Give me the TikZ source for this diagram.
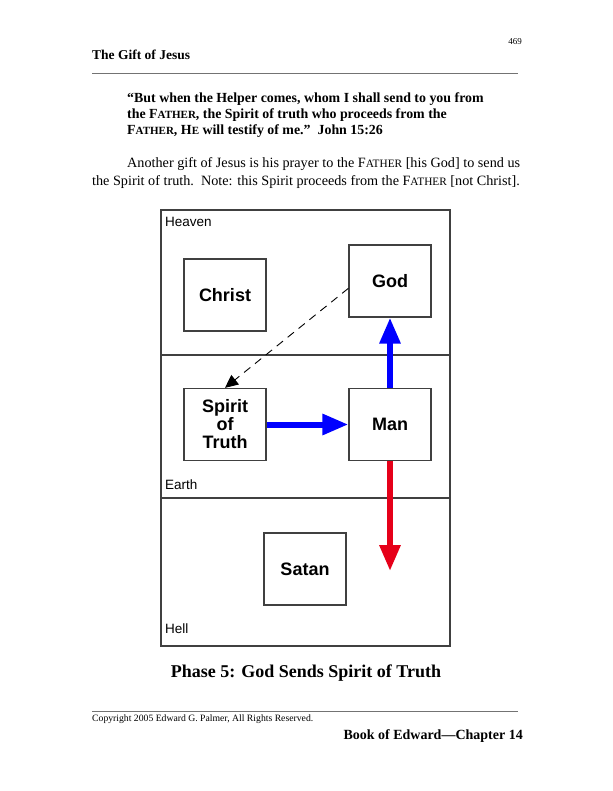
\documentclass[tikz,border=0pt]{standalone}
\usepackage{fontspec}
\setmainfont{Liberation Serif}
\setsansfont{Liberation Sans}
\usetikzlibrary{arrows.meta,calc}
\newcommand{\fscq}[2]{#1{\fontsize{11}{13}\selectfont #2}}
\newcommand{\fscp}[2]{#1{\fontsize{11.3}{13}\selectfont #2}}
\begin{document}
\begin{tikzpicture}[x=1pt,y=-1pt,
  txt/.style={anchor=base west,inner sep=0pt,font=\fontsize{14.2}{16}\selectfont},
  qt/.style={anchor=base west,inner sep=0pt,font=\fontsize{13.9}{16}\selectfont\bfseries},
  zone/.style={anchor=base west,inner sep=0pt,font=\sffamily\fontsize{13.5}{15}\selectfont},
  box/.style={draw=black!75,line width=1.3pt,minimum width=82pt,minimum height=72pt,inner sep=0pt,
    align=center,font=\sffamily\bfseries\fontsize{18}{18}\selectfont},
  frame/.style={draw=black!75,line width=1.3pt},
  rule/.style={draw=black!55,line width=0.6pt},
  fat/.style={line width=6pt},
  bluearrow/.style={fat,draw={rgb,255:red,0;green,0;blue,255},
    -{Triangle[length=26pt,width=20pt,fill={rgb,255:red,0;green,0;blue,255}]}},
  redarrow/.style={fat,draw={rgb,255:red,230;green,0;blue,25},
    -{Triangle[length=26pt,width=20pt,fill={rgb,255:red,230;green,0;blue,25}]}}
]
\useasboundingbox[fill=white] (0,0) rectangle (612,791);
% header
\node[anchor=base east,inner sep=0pt,font=\fontsize{9}{10}\selectfont] (pg) at (522,45) {469};
\node[anchor=base west,inner sep=0pt,font=\fontsize{13.5}{15}\selectfont\bfseries] (title) at (92,60) {The Gift of Jesus};
\coordinate (r1a) at (92,73); \coordinate (r1b) at (518,73);
\draw[rule] (r1a) -- (r1b);
% quote
\node[qt] (q1) at (127,103) {“But when the Helper comes, whom I shall send to you from};
\node[qt] (q2) at (127,119) {the \fscq{F}{ATHER}, the Spirit of truth who proceeds from the};
\node[qt] (q3) at (127,135) {\fscq{F}{ATHER}, \fscq{H}{E} will testify of me.”\ \ John 15:26};
% paragraph
\node[txt] (p1) at (127,168) {Another gift of Jesus is his prayer to the \fscp{F}{ATHER} [his God] to send us};
\node[txt] (p2) at (92,186) {the Spirit of truth.\ \ Note: this Spirit proceeds from the \fscp{F}{ATHER} [not Christ].};
% diagram frame
\coordinate (fa) at (161,210); \coordinate (fb) at (450,646);
\draw[frame] (fa) rectangle (fb);
\coordinate (d1a) at (161,355); \coordinate (d1b) at (450,355);
\coordinate (d2a) at (161,498); \coordinate (d2b) at (450,498);
\draw[frame] (d1a) -- (d1b);
\draw[frame] (d2a) -- (d2b);
\node[zone] (heaven) at (165,227) {Heaven};
\node[zone] (earth) at (165,489) {Earth};
\node[zone] (hell) at (165,633) {Hell};
% boxes
\node[box] (christ) at (225,295) {Christ};
\node[box] (god) at (390,281) {God};
\node[box] (spirit) at (225,424.5) {Spirit\\of\\Truth};
\node[box] (man) at (390,424.5) {Man};
\node[box] (satan) at (305,569) {Satan};
% arrows
\draw[bluearrow] (man.north) -- (god.south);
\draw[bluearrow] (spirit.east) -- (man.west);
\coordinate (down) at (390,571);
\draw[redarrow] (man.south) -- (down);
\draw[black,line width=0.9pt,dash pattern=on 8pt off 6pt,
  -{Triangle[length=13pt,width=12pt]}] (god.190) -- (spirit.north);
% caption
\node[inner sep=0pt,anchor=base,font=\fontsize{18}{20}\selectfont\bfseries] (cap) at (306,677) {Phase 5: God Sends Spirit of Truth};
% footer
\coordinate (r2a) at (92,711); \coordinate (r2b) at (518,711);
\draw[rule] (r2a) -- (r2b);
\node[anchor=base west,inner sep=0pt,font=\fontsize{9.7}{11}\selectfont] (copy) at (92,721) {Copyright 2005 Edward G. Palmer, All Rights Reserved.};
\node[anchor=base east,inner sep=0pt,font=\fontsize{14}{16}\selectfont\bfseries] (book) at (523,739) {Book of Edward—Chapter 14};
\end{tikzpicture}
\end{document}
